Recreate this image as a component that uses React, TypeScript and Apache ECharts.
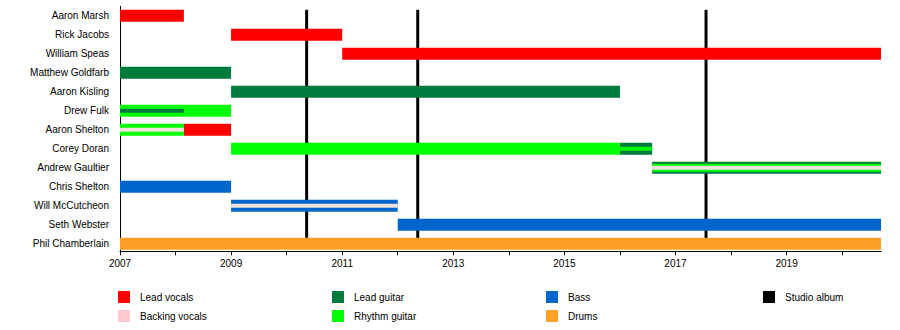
import React, { useEffect, useRef } from "react";
import * as echarts from "echarts";

const members = [
  "Aaron Marsh",
  "Rick Jacobs",
  "William Speas",
  "Matthew Goldfarb",
  "Aaron Kisling",
  "Drew Fulk",
  "Aaron Shelton",
  "Corey Doran",
  "Andrew Gaultier",
  "Chris Shelton",
  "Will McCutcheon",
  "Seth Webster",
  "Phil Chamberlain",
];

const START = 2007;
const END = 2020.7;

// [memberIndex, from, to]
const leadVocalsBars = [
  [0, 2007, 2008.15],
  [1, 2009, 2011],
  [2, 2011, END],
  [6, 2008.15, 2009],
];
const backingVocalsStripes = [
  [6, 2007, 2008.15],
  [8, 2016.58, END],
  [10, 2009, 2012],
];
const leadGuitarBars = [
  [3, 2007, 2009],
  [4, 2009, 2016],
  [7, 2016, 2016.58],
  [8, 2016.58, END],
];
const leadGuitarStripes = [[5, 2007, 2008.15]];
const rhythmGuitarBars = [
  [5, 2007, 2009],
  [6, 2007, 2008.15],
  [7, 2009, 2016],
];
const rhythmGuitarInner = [[8, 2016.58, END]];
const rhythmGuitarStripes = [[7, 2016, 2016.58]];
const bassBars = [
  [9, 2007, 2009],
  [10, 2009, 2012],
  [11, 2012, END],
];
const drumsBars = [[12, 2007, END]];
const studioAlbums = [2010.36, 2012.36, 2017.55];

const yearTicks = [2007, 2008, 2009, 2010, 2011, 2012, 2013, 2014, 2015, 2016, 2017, 2018, 2019, 2020];
const yearLabels = [2007, 2009, 2011, 2013, 2015, 2017, 2019];

const COLORS: Record<string, string> = {
  "Lead vocals": "#FF0000",
  "Backing vocals": "#FFC8D2",
  "Lead guitar": "#007A3D",
  "Rhythm guitar": "#00FF00",
  Bass: "#0066CC",
  Drums: "#FCA02A",
  "Studio album": "#000000",
};
const STRIPE_BACKING = "#EEE2DC";

const FONT = "'Liberation Sans', Arial, sans-serif";

function barSeries(name: string, data: number[][], h: number, fill?: string) {
  return {
    type: "custom",
    name,
    data,
    encode: { x: [1, 2], y: 0 },
    itemStyle: { color: COLORS[name] },
    renderItem: (params: any, api: any) => {
      const row = api.value(0);
      const s = api.coord([api.value(1), row]);
      const e = api.coord([api.value(2), row]);
      return {
        type: "rect",
        shape: { x: s[0], y: s[1] - h / 2, width: e[0] - s[0], height: h },
        style: { fill: fill || COLORS[name] },
      };
    },
  };
}

export default function App() {
  const ref = useRef<HTMLDivElement>(null);
  useEffect(() => {
    document.body.style.margin = "0";
    if (!ref.current) return;
    const chart = echarts.init(ref.current, null, { renderer: "svg" });
    const legendCols = [
      ["Lead vocals", "Backing vocals"],
      ["Lead guitar", "Rhythm guitar"],
      ["Bass", "Drums"],
      ["Studio album"],
    ];
    const legendLefts = [118, 332, 546, 763];
    chart.setOption({
      animation: false,
      textStyle: { fontFamily: FONT },
      grid: { left: 120, right: 19, top: 6.3, bottom: 76.7, containLabel: false },
      xAxis: {
        type: "value",
        min: START,
        max: END,
        offset: -2,
        splitLine: { show: false },
        axisLine: { show: true, lineStyle: { color: "#000", width: 1 } },
        axisTick: { show: true, length: 4, lineStyle: { color: "#000" }, customValues: yearTicks },
        axisLabel: {
          color: "#000",
          fontSize: 10,
          fontFamily: FONT,
          margin: 7,
          customValues: yearLabels,
          formatter: (v: number) => String(v),
        },
      },
      yAxis: {
        type: "category",
        data: members,
        inverse: true,
        axisTick: { show: false },
        axisLine: { show: true, lineStyle: { color: "#000", width: 1 } },
        axisLabel: { color: "#000", fontSize: 10, fontFamily: FONT, margin: 11 },
        splitLine: { show: false },
      },
      legend: legendCols.map((col, i) => ({
        orient: "vertical",
        left: legendLefts[i],
        top: 291,
        padding: 0,
        itemWidth: 12,
        itemHeight: 12,
        itemGap: 7,
        icon: "rect",
        selectedMode: false,
        data: col,
        textStyle: { fontSize: 10, color: "#000", fontFamily: FONT, padding: [0, 0, 0, 5] },
      })),
      series: [
        {
          type: "custom",
          name: "Studio album",
          data: studioAlbums.map((y) => [y]),
          encode: { x: 0 },
          itemStyle: { color: COLORS["Studio album"] },
          renderItem: (params: any, api: any) => {
            const top = api.coord([api.value(0), 0]);
            const bot = api.coord([api.value(0), members.length - 1]);
            return {
              type: "rect",
              shape: { x: top[0] - 1.5, y: top[1] - 6, width: 3, height: bot[1] - top[1] + 6 },
              style: { fill: "#000" },
            };
          },
        },
        barSeries("Lead vocals", leadVocalsBars, 12),
        barSeries("Lead guitar", leadGuitarBars, 12),
        barSeries("Rhythm guitar", rhythmGuitarBars, 12),
        barSeries("Bass", bassBars, 12),
        barSeries("Drums", drumsBars, 12),
        barSeries("Rhythm guitar", rhythmGuitarInner, 8),
        barSeries("Lead guitar", leadGuitarStripes, 4),
        barSeries("Rhythm guitar", rhythmGuitarStripes, 4),
        barSeries("Backing vocals", backingVocalsStripes, 4, STRIPE_BACKING),
      ],
    });
    return () => chart.dispose();
  }, []);
  return <div ref={ref} style={{ width: 900, height: 330 }} />;
}
